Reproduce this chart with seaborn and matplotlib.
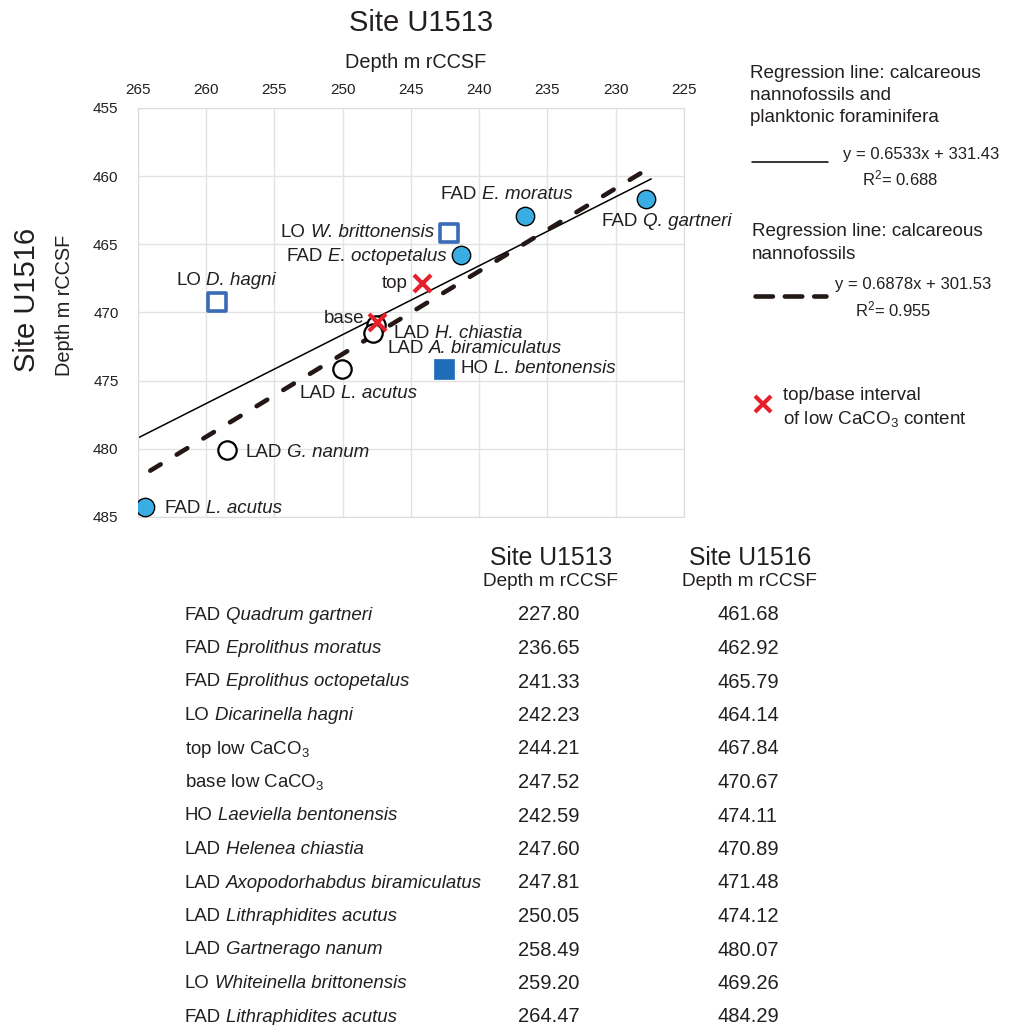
import numpy as np
import pandas as pd
import matplotlib
matplotlib.use("Agg")
import matplotlib.pyplot as plt
from matplotlib.lines import Line2D
from matplotlib.offsetbox import TextArea, HPacker, AnnotationBbox
import seaborn as sns

# --- data (table order) ---
prefixes = ["FAD", "FAD", "FAD", "LO", "top low CaCO$_3$", "base low CaCO$_3$", "HO",
            "LAD", "LAD", "LAD", "LAD", "LO", "FAD"]
taxa = ["Quadrum gartneri", "Eprolithus moratus", "Eprolithus octopetalus", "Dicarinella hagni",
        "", "", "Laeviella bentonensis", "Helenea chiastia", "Axopodorhabdus biramiculatus",
        "Lithraphidites acutus", "Gartnerago nanum", "Whiteinella brittonensis", "Lithraphidites acutus"]
depth_u1513 = [227.80, 236.65, 241.33, 242.23, 244.21, 247.52, 242.59,
               247.60, 247.81, 250.05, 258.49, 259.20, 264.47]
depth_u1516 = [461.68, 462.92, 465.79, 464.14, 467.84, 470.67, 474.11,
               470.89, 471.48, 474.12, 480.07, 469.26, 484.29]
kind = ["nanno_fad", "nanno_fad", "nanno_fad", "foram_lo", "caco3", "caco3", "foram_ho",
        "nanno_lad", "nanno_lad", "nanno_lad", "nanno_lad", "foram_lo", "nanno_fad"]
# labels as printed next to the points in the plot
plot_prefix = ["FAD", "FAD", "FAD", "LO", "top", "base", "HO", "LAD", "LAD", "LAD", "LAD", "LO", "FAD"]
plot_taxon = ["Q. gartneri", "E. moratus", "E. octopetalus", "W. brittonensis", "", "",
              "L. bentonensis", "H. chiastia", "A. biramiculatus", "L. acutus", "G. nanum",
              "D. hagni", "L. acutus"]

# regression lines as drawn in the figure (end points)
line_all_x = [265.0, 227.4]
line_all_y = [479.2, 460.2]
line_nanno_x = [264.1, 228.2]
line_nanno_y = [481.6, 459.8]

df = pd.DataFrame({"u1513": depth_u1513, "u1516": depth_u1516, "kind": kind})

W, H = 1012, 1025
sns.set_style("white")
plt.rcParams["font.family"] = ["Liberation Sans", "DejaVu Sans"]
plt.rcParams["mathtext.fontset"] = "custom"
plt.rcParams["mathtext.rm"] = "Liberation Sans"
plt.rcParams["mathtext.it"] = "Liberation Sans:italic"
TXT = "#231f20"


def fx(x):
    return x / W


def fy(y):
    return 1 - y / H


def rich(prefix, taxon, fs):
    kids = [TextArea(prefix, textprops=dict(fontsize=fs, color=TXT))]
    if taxon:
        kids.append(TextArea(taxon, textprops=dict(fontsize=fs, color=TXT, style="italic")))
    return HPacker(children=kids, align="baseline", pad=0, sep=0.28 * fs)


fig = plt.figure(figsize=(W / 100, H / 100), dpi=100)
ax = fig.add_axes([fx(138), fy(517), fx(684) - fx(138), (517 - 108) / H])

# regression lines
sns.lineplot(x=line_all_x, y=line_all_y, ax=ax, color="black", lw=1.1)
sns.lineplot(x=line_nanno_x, y=line_nanno_y, ax=ax, color="#231815", lw=3.3,
             linestyle=(0, (2.7, 4.1)), dash_capstyle="round")

# points
sel = df[df["kind"] == "nanno_fad"]
sns.scatterplot(data=sel, x="u1513", y="u1516", ax=ax, marker="o", s=175,
                color="#3AAEE3", edgecolor="black", linewidth=1.0, zorder=5)
sel = df[df["kind"] == "nanno_lad"]
sns.scatterplot(data=sel, x="u1513", y="u1516", ax=ax, marker="o", s=175,
                color="white", edgecolor="black", linewidth=1.6, zorder=4)
sel = df[df["kind"] == "foram_lo"]
sns.scatterplot(data=sel, x="u1513", y="u1516", ax=ax, marker="s", s=170,
                color="white", edgecolor="#3A6CB6", linewidth=2.6, zorder=5)
sel = df[df["kind"] == "foram_ho"]
sns.scatterplot(data=sel, x="u1513", y="u1516", ax=ax, marker="s", s=190,
                color="#1F6DB8", edgecolor="#1F6DB8", linewidth=0.5, zorder=5)
sel = df[df["kind"] == "caco3"]
ax.scatter(sel["u1513"], sel["u1516"], marker="x", s=150, color="#E5202A",
           linewidths=3.0, zorder=6)

# point labels: (dx px, dy px, ha)
offsets = [(21, -22, "center"), (-18, 21, "center"), (-14, -1, "right"), (-15, 0, "right"),
           (-14, 0, "right"), (-12, 3, "right"), (17, 0, "left"), (18, -9, "left"),
           (15, -16, "left"), (-43, -25, "left"), (19, -3, "left"), (9, 22, "center"),
           (19, -1, "left")]
halign = {"left": 0.0, "center": 0.5, "right": 1.0}
for i in range(len(depth_u1513)):
    dx, dy, ha = offsets[i]
    ab = AnnotationBbox(rich(plot_prefix[i], plot_taxon[i], 13.5),
                        (depth_u1513[i], depth_u1516[i]), xycoords=ax.transData,
                        xybox=(dx * 0.72, dy * 0.72), boxcoords="offset points",
                        box_alignment=(halign[ha], 0.5), frameon=False, pad=0)
    ab.set_zorder(10)
    fig.add_artist(ab)

ax.set_xlim(265, 225)
ax.set_ylim(485, 455)
ax.set_xticks(np.arange(265, 224, -5))
ax.set_yticks(np.arange(455, 486, 5))
ax.xaxis.tick_top()
ax.tick_params(length=0, labelsize=11, colors=TXT)
ax.tick_params(axis="x", pad=8)
ax.tick_params(axis="y", pad=14)
ax.grid(True, color="#e2e2e2", lw=1)
for sp in ax.spines.values():
    sp.set_color("#dcdcdc")
ax.set_xlabel("")
ax.set_ylabel("")

fig.text(fx(421), fy(23), "Site U1513", fontsize=21, ha="center", va="center", color=TXT)
fig.text(fx(416), fy(62), "Depth m rCCSF", fontsize=14.3, ha="center", va="center", color=TXT)
fig.text(fx(27), fy(300), "Site U1516", fontsize=21, rotation=90, ha="center", va="center", color=TXT)
fig.text(fx(65), fy(305), "Depth m rCCSF", fontsize=14.3, rotation=90, ha="center", va="center", color=TXT)

# legend block
for k, line in enumerate(["Regression line: calcareous", "nannofossils and", "planktonic foraminifera"]):
    fig.text(fx(750), fy(73 + 22.5 * k), line, fontsize=13.6, ha="left", va="center", color=TXT)
fig.add_artist(Line2D([fx(752), fx(828)], [fy(162), fy(162)], color="black", lw=1.1))
fig.text(fx(843), fy(155), "y = 0.6533x + 331.43", fontsize=12, ha="left", va="center", color=TXT)
fig.text(fx(862), fy(178), "R$^{2}$= 0.688", fontsize=12, ha="left", va="center", color=TXT)

for k, line in enumerate(["Regression line: calcareous", "nannofossils"]):
    fig.text(fx(752), fy(232 + 22.5 * k), line, fontsize=13.6, ha="left", va="center", color=TXT)
fig.add_artist(Line2D([fx(755), fx(826)], [fy(296), fy(296)], color="#231815", lw=3.3,
                      ls=(0, (3.8, 2.6)), dash_capstyle="round"))
fig.text(fx(835), fy(285), "y = 0.6878x + 301.53", fontsize=12, ha="left", va="center", color=TXT)
fig.text(fx(855), fy(309), "R$^{2}$= 0.955", fontsize=12, ha="left", va="center", color=TXT)

fig.add_artist(Line2D([fx(763)], [fy(404)], marker="x", ms=12, mew=3.0, color="#E5202A", ls="none"))
fig.text(fx(783), fy(396), "top/base interval", fontsize=13.6, ha="left", va="center", color=TXT)
fig.text(fx(783), fy(419), "of low CaCO$_3$ content", fontsize=13.6, ha="left", va="center", color=TXT)

# table
fig.text(fx(551), fy(558), "Site U1513", fontsize=17.8, ha="center", va="center", color=TXT)
fig.text(fx(550), fy(582), "Depth m rCCSF", fontsize=13.7, ha="center", va="center", color=TXT)
fig.text(fx(750), fy(558), "Site U1516", fontsize=17.8, ha="center", va="center", color=TXT)
fig.text(fx(749), fy(582), "Depth m rCCSF", fontsize=13.7, ha="center", va="center", color=TXT)
for i in range(len(depth_u1513)):
    y = 615 + i * 33.5
    ab = AnnotationBbox(rich(prefixes[i], taxa[i], 13.4), (fx(185), fy(y)),
                        xycoords="figure fraction", box_alignment=(0, 0.5),
                        frameon=False, pad=0)
    fig.add_artist(ab)
    fig.text(fx(549), fy(y), f"{depth_u1513[i]:.2f}", fontsize=14.5, ha="center", va="center", color=TXT)
    fig.text(fx(748), fy(y), f"{depth_u1516[i]:.2f}", fontsize=14.5, ha="center", va="center", color=TXT)

fig.savefig("out.png", dpi=100)
